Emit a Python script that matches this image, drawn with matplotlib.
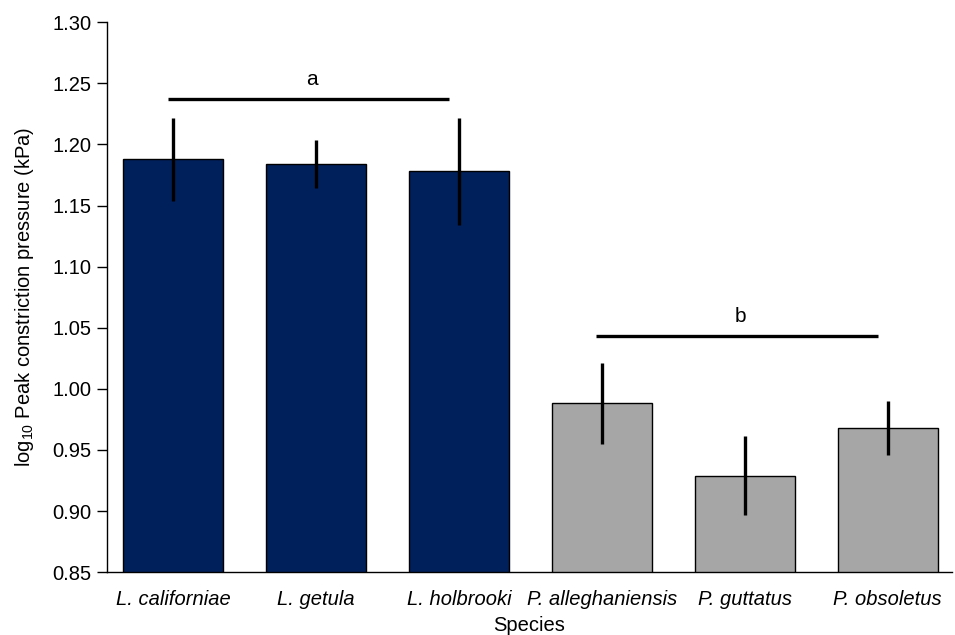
import numpy as np
import matplotlib.pyplot as plt

plt.rcParams['font.family'] = ['Liberation Sans', 'DejaVu Sans']
plt.rcParams['mathtext.fontset'] = 'custom'
plt.rcParams['mathtext.rm'] = 'Liberation Sans'

species = ["L. californiae", "L. getula", "L. holbrooki",
           "P. alleghaniensis", "P. guttatus", "P. obsoletus"]
means = [1.188, 1.184, 1.178, 0.988, 0.929, 0.968]
errors = [0.034, 0.020, 0.044, 0.033, 0.032, 0.022]
colors = ["#00205C"] * 3 + ["#A6A6A6"] * 3

# significance groups: (first bar, last bar, height, letter)
groups = [(0, 2, 1.2375, "a"), (3, 5, 1.0432, "b")]

fig = plt.figure(figsize=(9.55, 6.35), dpi=100)
ax = fig.add_axes([0.112, 0.099, 0.885, 0.866])

x = np.arange(len(species))
ax.bar(x, means, width=0.7, color=colors, edgecolor="black", linewidth=1.0,
       zorder=2)
ax.errorbar(x, means, yerr=errors, fmt="none", ecolor="black",
            elinewidth=2.4, capsize=0, zorder=3)

for i0, i1, h, lab in groups:
    ax.plot([i0 - 0.04, i1 - 0.07], [h, h], color="black", lw=2.4,
            solid_capstyle="butt")
    ax.text((i0 + i1) / 2 - 0.03, h + 0.008, lab, ha="center", va="bottom",
            fontsize=15)

ax.set_ylim(0.85, 1.30)
ax.set_yticks(np.arange(0.85, 1.301, 0.05))
ax.set_yticklabels([f"{v:.2f}" for v in np.arange(0.85, 1.301, 0.05)])
ax.set_xlim(-0.464, 5.451)
ax.set_xticks(x)
ax.set_xticklabels(species, fontstyle="italic", fontsize=14.5)
ax.tick_params(axis="x", length=0, pad=13)
ax.tick_params(axis="y", labelsize=14.5, length=7, width=1, pad=4)

for s in ["top", "right"]:
    ax.spines[s].set_visible(False)
ax.spines["left"].set_linewidth(1.0)
ax.spines["bottom"].set_linewidth(1.0)

ax.set_xlabel("Species", fontsize=14.5, labelpad=5)
ax.set_ylabel(r"log$_{10}$ Peak constriction pressure (kPa)", fontsize=14.5,
              labelpad=12)

fig.savefig("out.png", dpi=100)
